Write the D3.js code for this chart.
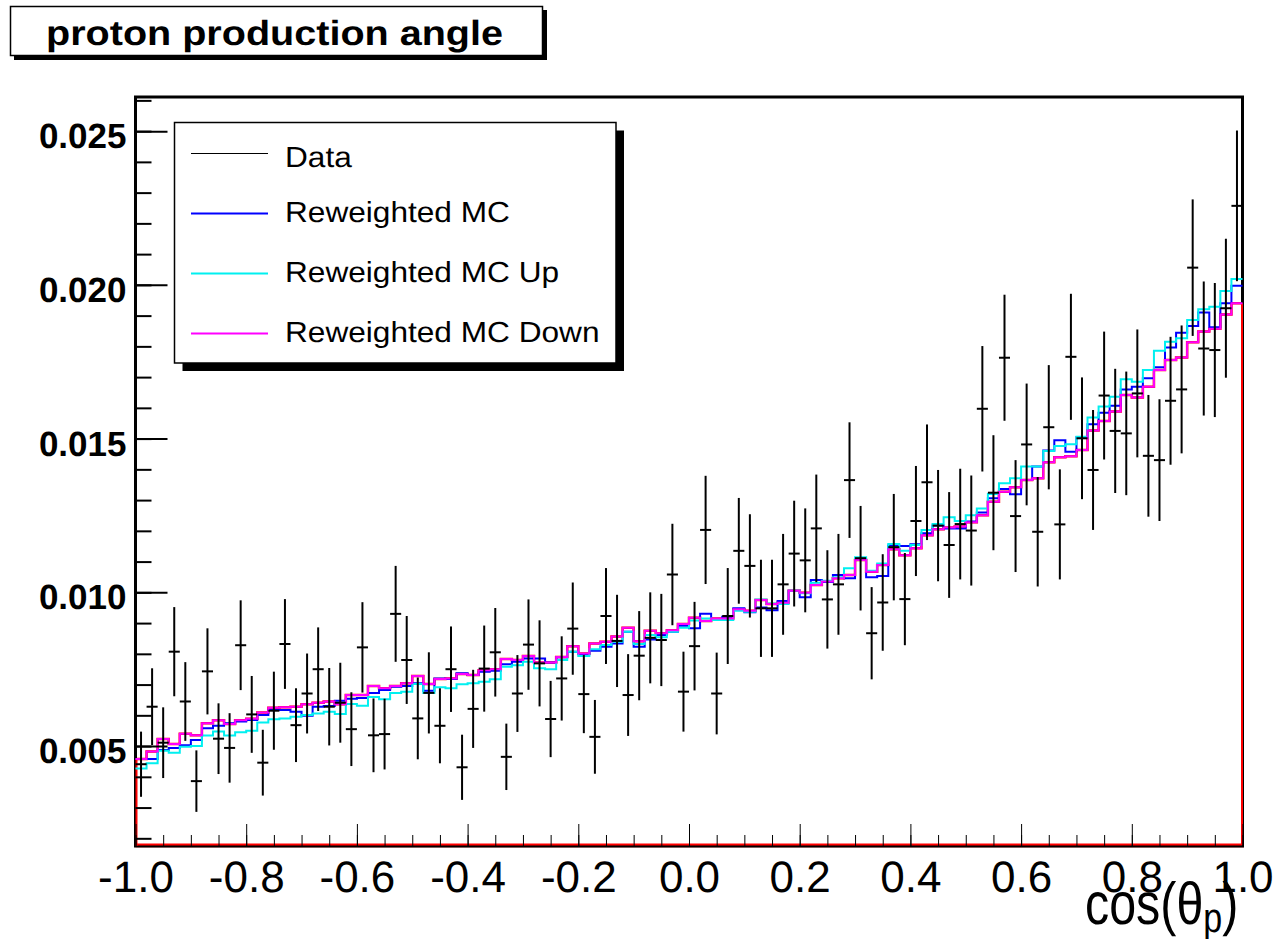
<!DOCTYPE html>
<html><head><meta charset="utf-8">
<script src="https://cdn.jsdelivr.net/npm/d3@7"></script>
<style>body{margin:0;background:#fff} text{text-rendering:geometricPrecision}</style>
</head><body>
<svg id="c" width="1277" height="939"></svg>
<script>
const xMin = -1, xMax = 1, nBins = 100;
const xTickValues = [-1.0,-0.8,-0.6,-0.4,-0.2,0.0,0.2,0.4,0.6,0.8,1.0];
const xTickLabels = ["-1.0","-0.8","-0.6","-0.4","-0.2","0.0","0.2","0.4","0.6","0.8","1.0"];
const yTickValues = [0.005,0.010,0.015,0.020,0.025];
const yTickLabels = ["0.005","0.010","0.015","0.020","0.025"];
const titleText = "proton production angle";
const xAxisTitle = ["cos(\u03B8", "p", ")"];
const legendLabels = ["Data","Reweighted MC","Reweighted MC Up","Reweighted MC Down"];

const dataValues = [0.00441,0.00628,0.00511,0.00807,0.00645,0.00386,0.00743,0.00524,0.00494,0.00828,
 0.00603,0.00446,0.00615,0.00832,0.00568,0.00671,0.00750,0.00628,0.00641,0.00555,
 0.00821,0.00535,0.00539,0.00930,0.00780,0.00590,0.00673,0.00566,0.00750,0.00431,
 0.00621,0.00752,0.00805,0.00465,0.00671,0.00830,0.00769,0.00588,0.00720,0.00882,
 0.00669,0.00530,0.00923,0.00842,0.00666,0.00794,0.00852,0.00845,0.01058,0.00677,
 0.00825,0.01203,0.00671,0.00923,0.01135,0.01086,0.00948,0.00948,0.01026,0.01126,
 0.01104,0.01208,0.00977,0.01026,0.01365,0.01111,0.00867,0.00967,0.01147,0.00978,
 0.01232,0.01358,0.01217,0.01154,0.01222,0.01201,0.01597,0.01324,0.01763,0.01248,
 0.01481,0.01197,0.01537,0.01221,0.01766,0.01501,0.01398,0.01640,0.01525,0.01517,
 0.01647,0.01444,0.01430,0.01623,0.01660,0.02056,0.01793,0.01788,0.01924,0.02257];
const dataErrors = [0.00106,0.00125,0.00115,0.00145,0.00128,0.00100,0.00140,0.00115,0.00113,0.00146,
 0.00125,0.00107,0.00127,0.00146,0.00120,0.00130,0.00136,0.00126,0.00130,0.00120,
 0.00147,0.00120,0.00115,0.00156,0.00143,0.00133,0.00132,0.00122,0.00139,0.00106,
 0.00127,0.00140,0.00144,0.00108,0.00125,0.00147,0.00140,0.00124,0.00137,0.00150,
 0.00127,0.00120,0.00156,0.00150,0.00133,0.00145,0.00148,0.00150,0.00165,0.00130,
 0.00144,0.00176,0.00133,0.00156,0.00172,0.00168,0.00158,0.00158,0.00164,0.00172,
 0.00169,0.00175,0.00160,0.00164,0.00188,0.00170,0.00150,0.00157,0.00173,0.00150,
 0.00179,0.00188,0.00181,0.00172,0.00180,0.00179,0.00204,0.00187,0.00205,0.00182,
 0.00198,0.00178,0.00202,0.00179,0.00205,0.00198,0.00195,0.00208,0.00202,0.00201,
 0.00208,0.00198,0.00198,0.00208,0.00208,0.00222,0.00218,0.00218,0.00226,0.00245];
const mcValues = [0.00458,0.00458,0.00487,0.00494,0.00503,0.00520,0.00558,0.00566,0.00574,0.00580,
 0.00585,0.00601,0.00617,0.00617,0.00612,0.00599,0.00628,0.00630,
 0.00647,0.00654,0.00656,0.00673,0.00682,0.00693,0.00695,0.00704,0.00680,0.00720,0.00718,0.00737,0.00731,0.00742,0.00745,0.00766,0.00774,
 0.00785,0.00785,0.00772,0.00789,0.00807,0.00799,0.00810,0.00823,0.00834,0.00872,0.00823,0.00847,0.00861,0.00872,0.00891,0.00883,0.00930,
 0.00912,0.00921,0.00948,0.00935,0.00951,0.00942,0.00972,0.01005,0.00984,0.01040,0.01034,0.01056,0.01046,0.01107,0.01049,0.01053,0.01152,
 0.01151,0.01156,0.01192,0.01217,0.01208,0.01208,0.01230,0.01260,0.01306,0.01336,0.01319,0.01365,0.01409,0.01461,0.01495,0.01457,0.01504,
 0.01547,0.01584,0.01607,0.01660,0.01669,0.01696,0.01732,0.01796,0.01844,0.01866,0.01910,0.01862,0.01940,0.01997];
const mcUpValues = [0.00427,0.00444,0.00485,0.00478,0.00498,0.00500,0.00534,0.00547,0.00534,0.00545,
 0.00550,0.00577,0.00587,0.00590,0.00595,0.00601,0.00606,0.00612,
 0.00604,0.00637,0.00631,0.00660,0.00652,0.00673,0.00677,0.00702,0.00673,0.00691,0.00688,0.00701,0.00704,0.00709,0.00717,0.00758,0.00763,
 0.00774,0.00753,0.00750,0.00780,0.00807,0.00793,0.00815,0.00829,0.00839,0.00872,0.00832,0.00861,0.00854,0.00872,0.00885,0.00908,0.00915,
 0.00910,0.00910,0.00940,0.00937,0.00977,0.00964,0.00962,0.01005,0.00997,0.01031,0.01038,0.01049,0.01078,0.01114,0.01070,0.01094,0.01157,
 0.01135,0.01154,0.01203,0.01222,0.01244,0.01232,0.01251,0.01273,0.01320,0.01355,0.01371,0.01409,0.01409,0.01460,0.01476,0.01482,0.01506,
 0.01569,0.01604,0.01636,0.01693,0.01685,0.01723,0.01786,0.01815,0.01826,0.01886,0.01921,0.01929,0.01980,0.02019];
const mcDownValues = [0.00458,0.00482,0.00523,0.00507,0.00540,0.00535,0.00574,0.00584,0.00572,0.00584,
 0.00589,0.00609,0.00625,0.00626,0.00628,0.00636,0.00641,0.00645,
 0.00636,0.00666,0.00666,0.00695,0.00688,0.00695,0.00704,0.00728,0.00702,0.00718,0.00720,0.00734,0.00731,0.00747,0.00750,0.00783,0.00780,
 0.00793,0.00772,0.00772,0.00790,0.00825,0.00801,0.00834,0.00839,0.00856,0.00885,0.00841,0.00875,0.00867,0.00877,0.00897,0.00917,0.00907,
 0.00915,0.00915,0.00945,0.00940,0.00975,0.00962,0.00966,0.01005,0.00999,0.01024,0.01035,0.01046,0.01056,0.01105,0.01067,0.01089,0.01140,
 0.01121,0.01143,0.01186,0.01205,0.01211,0.01214,0.01228,0.01251,0.01295,0.01327,0.01342,0.01365,0.01371,0.01423,0.01439,0.01443,0.01463,
 0.01526,0.01557,0.01588,0.01642,0.01634,0.01669,0.01723,0.01756,0.01764,0.01813,0.01848,0.01857,0.01904,0.01940];

const FONT = "'Liberation Sans', Arial, Helvetica, sans-serif";
const L = 135.5, R = 1242.5, T = 97, B = 846;
const yMin = 0.00175, yMax = 0.02611;
const svg = d3.select("#c");
const x = d3.scaleLinear().domain([xMin, xMax]).range([L, R]);
const y = d3.scaleLinear().domain([yMin, yMax]).range([B, T]);
const bw = (xMax - xMin) / nBins;
const edge = i => xMin + i * bw;

function stepPoints(vals) {
  const pts = vals.map((v, i) => [edge(i), v]);
  pts.push([edge(vals.length), vals[vals.length - 1]]);
  return pts;
}
const stepLine = d3.line().x(d => x(d[0])).y(d => y(d[1])).curve(d3.curveStepAfter);

// red closed outline of the Down histogram (only its edges remain visible)
const redOutline = [[xMin, yMin]].concat(stepPoints(mcDownValues)).concat([[xMax, yMin], [xMin, yMin]]);
svg.append("path").attr("d", stepLine(redOutline))
  .attr("fill", "none").attr("stroke", "#ff0000").attr("stroke-width", 2.5);

// frame
svg.append("rect").attr("x", L).attr("y", T).attr("width", R - L).attr("height", B - T)
  .attr("fill", "none").attr("stroke", "#000").attr("stroke-width", 3);
// red edges drawn over the frame
svg.append("line").attr("x1", x(xMin)+1).attr("x2", x(xMin)+1).attr("y1", B).attr("y2", y(mcDownValues[0])).attr("stroke","#ff0000").attr("stroke-width",2);
svg.append("line").attr("x1", x(xMax)-0.5).attr("x2", x(xMax)-0.5).attr("y1", B-1).attr("y2", y(mcDownValues[nBins-1])).attr("stroke","#ff0000").attr("stroke-width",2);
svg.append("line").attr("x1", L).attr("x2", R).attr("y1", B-1.5).attr("y2", B-1.5).attr("stroke","#ff0000").attr("stroke-width",2);

// MC histograms
const series = [
  {vals: mcValues, color: "#0000ff"},
  {vals: mcUpValues, color: "#00f0f0"},
  {vals: mcDownValues, color: "#ff00ff"}
];
series.forEach(s => {
  svg.append("path").attr("d", stepLine(stepPoints(s.vals)))
    .attr("fill", "none").attr("stroke", s.color).attr("stroke-width", 2);
});

// data points with errors
const dg = svg.append("g").attr("stroke", "#000").attr("stroke-width", 2);
dataValues.forEach((v, i) => {
  const xc = x(edge(i) + bw / 2);
  dg.append("line").attr("x1", xc).attr("x2", xc).attr("y1", y(v - dataErrors[i])).attr("y2", y(v + dataErrors[i]));
  dg.append("line").attr("x1", x(edge(i))).attr("x2", x(edge(i + 1))).attr("y1", y(v)).attr("y2", y(v));
});

// axes
const yMinor = d3.range(2, 27).map(k => k / 1000).filter(v => v >= yMin && v <= yMax);
svg.append("g").attr("transform", `translate(${L},0)`)
  .call(d3.axisLeft(y).tickValues(yMinor).tickSize(-16).tickFormat(""))
  .call(g => g.select(".domain").remove())
  .call(g => g.selectAll("line").attr("stroke", "#000").attr("stroke-width", 2));
svg.append("g").attr("transform", `translate(${L},0)`)
  .call(d3.axisLeft(y).tickValues(yTickValues).tickSize(-32).tickPadding(9).tickFormat((d, i) => yTickLabels[i]))
  .call(g => g.select(".domain").remove())
  .call(g => g.selectAll("line").attr("stroke", "#000").attr("stroke-width", 2))
  .call(g => g.selectAll("text").attr("font-family", FONT).attr("font-weight", "bold")
    .attr("font-size", 35).attr("fill", "#000").attr("dy", "0.47em"));

const xMinor = d3.range(-20, 21).map(k => k * 0.05);
svg.append("g").attr("transform", `translate(0,${B})`)
  .call(d3.axisBottom(x).tickValues(xMinor).tickSize(-11).tickFormat(""))
  .call(g => g.select(".domain").remove())
  .call(g => g.selectAll("line").attr("stroke", "#000").attr("stroke-width", 1));
svg.append("g").attr("transform", `translate(0,${B})`)
  .call(d3.axisBottom(x).tickValues(xTickValues).tickSize(-22).tickPadding(15).tickFormat((d, i) => xTickLabels[i]))
  .call(g => g.select(".domain").remove())
  .call(g => g.selectAll("line").attr("stroke", "#000").attr("stroke-width", 1))
  .call(g => g.selectAll("text").attr("font-family", FONT).attr("font-size", 44).attr("fill", "#000"));

// x axis title
const at = svg.append("g").attr("transform", "translate(1085,924) scale(1.1,1.35)");
const atx = at.append("text").attr("font-family", FONT).attr("font-size", 44).attr("fill", "#000");
atx.append("tspan").attr("fill", "#000").text(xAxisTitle[0]);
atx.append("tspan").attr("fill", "#000").attr("dy", 6).attr("font-size", 31).text(xAxisTitle[1]);
atx.append("tspan").attr("fill", "#000").attr("dy", -6).text(xAxisTitle[2]);

// title box
svg.append("rect").attr("x", 14).attr("y", 10).attr("width", 533).attr("height", 50).attr("fill", "#000");
svg.append("rect").attr("x", 10.5).attr("y", 6.5).attr("width", 532).attr("height", 49).attr("fill", "#fff").attr("stroke", "#000").attr("stroke-width", 1.5);
svg.append("text").attr("x", 46).attr("y", 45).attr("font-family", FONT).attr("font-weight", "bold")
  .attr("font-size", 35).attr("textLength", 457).attr("lengthAdjust", "spacingAndGlyphs").text(titleText);

// legend
const lx = 174.5, ly = 122.5, lw = 441.5, lh = 240.5;
svg.append("rect").attr("x", lx + 8).attr("y", ly + 8).attr("width", lw).attr("height", lh).attr("fill", "#000");
svg.append("rect").attr("x", lx).attr("y", ly).attr("width", lw).attr("height", lh).attr("fill", "#fff").attr("stroke", "#000").attr("stroke-width", 1.5);
const legColors = ["#000000", "#0000ff", "#00f0f0", "#ff00ff"];
legendLabels.forEach((lab, i) => {
  const yy = 153.5 + 60 * i;
  const off = /[gjpqy]/.test(lab) ? 8.5 : 13.2;
  svg.append("line").attr("x1", 191).attr("x2", 268).attr("y1", yy).attr("y2", yy)
    .attr("stroke", legColors[i]).attr("stroke-width", i === 0 ? 1.2 : 2);
  svg.append("text").attr("x", 285).attr("y", yy + off).attr("font-family", FONT).attr("font-size", 29)
    .attr("fill", "#000").attr("transform", `translate(285,0) scale(1.09,1) translate(-285,0)`).text(lab);
});
</script>
</body></html>
